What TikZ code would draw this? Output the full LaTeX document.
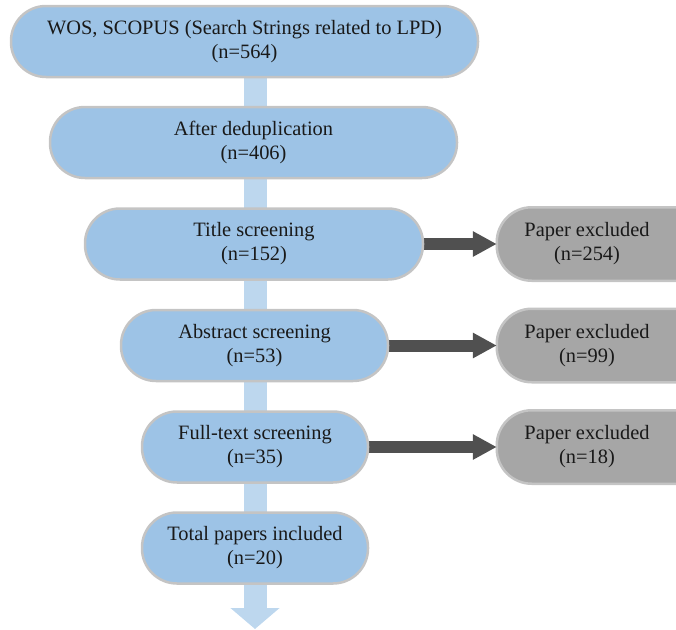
\documentclass[tikz,border=0pt]{standalone}
\usepackage{fontspec}
\setmainfont{Liberation Serif}
\usetikzlibrary{arrows.meta,backgrounds}
\definecolor{boxblue}{HTML}{9DC3E6}
\definecolor{edgegray}{HTML}{C4C4C4}
\definecolor{exgray}{HTML}{A6A6A6}
\definecolor{flowblue}{HTML}{BDD7EE}
\definecolor{darkarrow}{HTML}{505050}
\begin{document}
\begin{tikzpicture}[x=1pt,y=-1pt,
  basebox/.style={line width=2.5pt, rounded corners=35pt, align=center,
    font=\fontsize{20.4}{24}\selectfont, text=black!90, inner sep=0pt, minimum height=71pt},
  mainbox/.style={basebox, draw=edgegray, fill=boxblue},
  exbox/.style={basebox},
  exshape/.style={draw=edgegray, line width=2.5pt, fill=exgray, rounded corners=35pt},
  exarrow/.style={line width=12pt, draw=darkarrow, -{Triangle[width=24pt 0 0, length=24pt 0 0]}},
  flowarrow/.style={line width=23pt, draw=flowblue, -{Triangle[width=48pt 0 0, length=21pt 0 0]}}]
\useasboundingbox (0,0) rectangle (676,629);
\clip (0,0) rectangle (676,629);

\node[mainbox, minimum width=467pt] (b1) at (244.5,41.5) {WOS, SCOPUS (Search Strings related to LPD)\\(n=564)};
\node[mainbox, minimum width=407pt] (b2) at (253.5,142.5) {After deduplication\\(n=406)};
\node[mainbox, minimum width=338pt] (b3) at (254,244) {Title screening\\(n=152)};
\node[mainbox, minimum width=267pt] (b4) at (254.5,345.5) {Abstract screening\\(n=53)};
\node[mainbox, minimum width=226pt] (b5) at (255,447) {Full-text screening\\(n=35)};
\node[mainbox, minimum width=226pt] (b6) at (255,548) {Total papers included\\(n=20)};

\node[exbox, minimum width=178pt] (g1) at (587,244) {Paper excluded\\(n=254)};
\node[exbox, minimum width=178pt] (g2) at (587,345.5) {Paper excluded\\(n=99)};
\node[exbox, minimum width=178pt] (g3) at (587,447) {Paper excluded\\(n=18)};

\coordinate (vtop) at (255,77);
\coordinate (vend) at (255,629);

\begin{scope}[on background layer]
\draw[flowarrow] (vtop) -- (vend);
\foreach \g in {g1,g2,g3}
  \path[exshape] (\g.north west) rectangle ([xshift=80pt]\g.south east);
\draw[exarrow] (b3.east) -- (g1.west);
\draw[exarrow] (b4.east) -- (g2.west);
\draw[exarrow] (b5.east) -- (g3.west);
\end{scope}
\end{tikzpicture}
\end{document}
